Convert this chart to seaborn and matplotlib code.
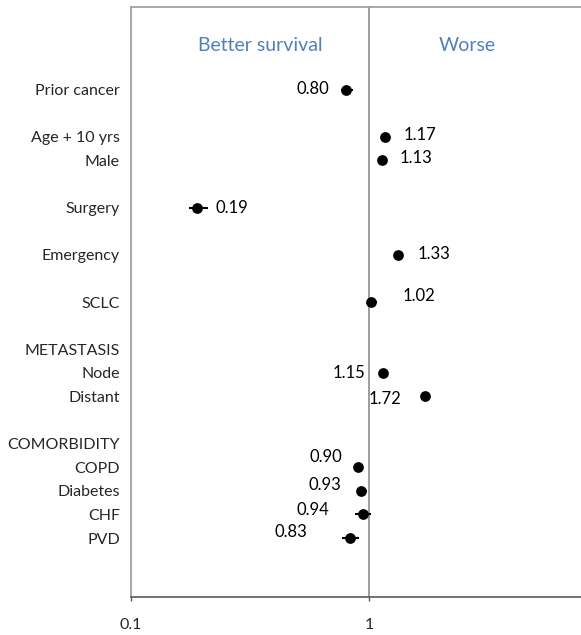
import matplotlib
matplotlib.use("Agg")
import matplotlib.pyplot as plt
import seaborn as sns
import pandas as pd
import numpy as np

# ---- data ----
labels = ["Prior cancer", "Age + 10 yrs", "Male", "Surgery", "Emergency", "SCLC",
          "METASTASIS", "Node", "Distant", "COMORBIDITY", "COPD", "Diabetes", "CHF", "PVD"]
label_rows = [0, 2, 3, 5, 7, 9, 11, 12, 13, 15, 16, 17, 18, 19]

point_names = ["Prior cancer", "Age + 10 yrs", "Male", "Surgery", "Emergency", "SCLC",
               "Node", "Distant", "COPD", "Diabetes", "CHF", "PVD"]
hr = [0.80, 1.17, 1.13, 0.19, 1.33, 1.02, 1.15, 1.72, 0.90, 0.93, 0.94, 0.83]
ci_low = [0.76, 1.15, 1.11, 0.175, 1.31, 0.98, 1.13, 1.69, 0.88, 0.89, 0.87, 0.77]
ci_high = [0.86, 1.19, 1.15, 0.21, 1.35, 1.08, 1.17, 1.75, 0.92, 0.98, 1.02, 0.91]
value_text = ["0.80", "1.17", "1.13", "0.19", "1.33", "1.02", "1.15", "1.72",
              "0.90", "0.93", "0.94", "0.83"]
header_left = "Better survival"
header_right = "Worse"
xtick_vals = [0.1, 1]
xtick_text = ["0.1", "1"]

# ---- layout (pixel offsets of value labels relative to the marker) ----
lab_dx = [-17, 18, 18, 18, 19, 32, -18, -24, -16, -20, -33, -42]
lab_dy = [1, 2, 2, 0, 1, 6, 0, -3, 10, 6, 4, 6]

row_of = dict(zip(labels, label_rows))
df = pd.DataFrame({"name": point_names, "hr": hr, "lo": ci_low, "hi": ci_high,
                   "txt": value_text})
df["row"] = df["name"].map(row_of)

sns.set_theme(style="white")
plt.rcParams["font.family"] = ["Lato", "DejaVu Sans"]

W, H = 581, 635
fig = plt.figure(figsize=(W / 100, H / 100), dpi=100)
left_px, right_px, top_px, bot_px = 131, 607, 7, 597
ax = fig.add_axes([left_px / W, 1 - bot_px / H, (right_px - left_px) / W, (bot_px - top_px) / H])

ax.set_xscale("log")
ax.set_xlim(0.1, 10)
ax.set_ylim(21.5, -3.5)

# CI bars
ax.errorbar(df["hr"], df["row"],
            xerr=[df["hr"] - df["lo"], df["hi"] - df["hr"]],
            fmt="none", ecolor="black", elinewidth=1.5, capsize=0, zorder=3)
sns.scatterplot(data=df, x="hr", y="row", ax=ax, color="black", s=60,
                edgecolor="black", linewidth=0, zorder=4, legend=False)

# reference line at 1
ax.axvline(1, color="#8c8c8c", lw=1.2, zorder=1)

# value labels
for (_, r), dx, dy in zip(df.iterrows(), lab_dx, lab_dy):
    ax.annotate(r["txt"], (r["hr"], r["row"]), xytext=(dx, dy),
                textcoords="offset pixels", ha="left" if dx > 0 else "right",
                va="center", fontsize=12, color="black")

# header texts
ax.text(0.348, -1.85, header_left, color="#4f81bd", fontsize=14, ha="center", va="center")
ax.text(2.58, -1.85, header_right, color="#4f81bd", fontsize=14, ha="center", va="center")

# y labels
ax.set_yticks(label_rows)
ax.set_yticklabels(labels, fontsize=11.5)
ax.tick_params(axis="y", length=0, pad=8)

# x ticks
ax.set_xticks(xtick_vals)
ax.set_xticklabels(xtick_text, fontsize=11.5)
ax.xaxis.set_minor_locator(matplotlib.ticker.NullLocator())
ax.tick_params(axis="x", direction="out", length=3, width=1, color="#595959", pad=12,
               bottom=True)

ax.set_xlabel("")
ax.set_ylabel("")

for s in ["left", "top"]:
    ax.spines[s].set_color("#9a9a9a")
    ax.spines[s].set_linewidth(1.2)
ax.spines["bottom"].set_color("#595959")
ax.spines["bottom"].set_linewidth(1.2)
ax.spines["right"].set_visible(False)

fig.savefig("out.png", dpi=100)
